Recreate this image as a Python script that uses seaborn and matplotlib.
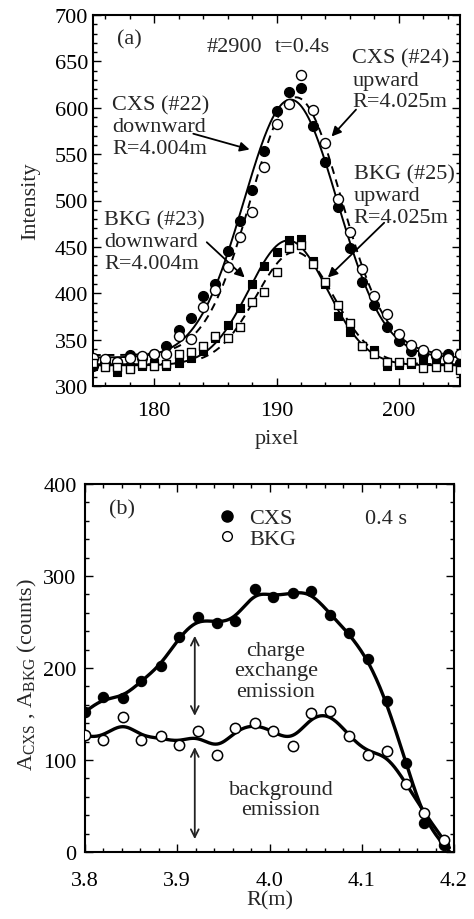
import numpy as np
import pandas as pd
import matplotlib
matplotlib.use("Agg")
import matplotlib.pyplot as plt
from matplotlib.ticker import MultipleLocator
from matplotlib.lines import Line2D
import seaborn as sns

# ---------------- data: panel (a) ----------------
pixel = list(range(175, 206))
cxs22 = [322, 325, 326, 333, 330, 335, 343, 360, 373, 397, 410, 446, 478, 511, 553, 597,
         617, 621, 580, 541, 493, 449, 412, 387, 364, 348, 338, 335, 332, 334, 325]
cxs24 = [330, 329, 326, 330, 332, 334, 335, 354, 351, 385, 403, 428, 461, 488, 536, 583,
         604, 635, 598, 562, 502, 466, 426, 397, 378, 356, 344, 339, 335, 330, 334]
bkg23 = [322, 322, 315, 320, 322, 325, 322, 325, 330, 338, 352, 366, 384, 410, 429, 445,
         457, 459, 435, 410, 376, 358, 343, 339, 322, 323, 324, 327, 325, 324, 322]
bkg25 = [325, 320, 320, 318, 324, 322, 324, 334, 337, 343, 354, 352, 364, 391, 401, 423,
         449, 452, 432, 412, 387, 368, 343, 334, 326, 326, 326, 319, 321, 320, 317]
a_xticks = [180, 190, 200]
a_yticks = [300, 350, 400, 450, 500, 550, 600, 650, 700]

# ---------------- data: panel (b) ----------------
R = [3.800, 3.820, 3.841, 3.861, 3.882, 3.902, 3.922, 3.943, 3.963, 3.984,
     4.004, 4.025, 4.045, 4.066, 4.086, 4.107, 4.127, 4.148, 4.168, 4.189]
A_cxs = [152, 168, 167, 186, 202, 234, 255, 249, 251, 286,
         277, 282, 284, 258, 238, 210, 164, 97, 32, 8]
A_bkg = [127, 122, 147, 122, 126, 116, 132, 105, 135, 140,
         132, 115, 151, 153, 126, 105, 110, 74, 42, 13]
b_xticks = [3.8, 3.9, 4.0, 4.1, 4.2]
b_yticks = [0, 100, 200, 300, 400]


def gauss_fit(x, y, grid):
    """Least-squares Gaussian + baseline fit of the read points."""
    x = np.asarray(x, float)
    y = np.asarray(y, float)
    c = np.arange(186.0, 196.0, 0.05)[:, None, None]
    s = np.arange(2.0, 6.0, 0.02)[None, :, None]
    g = np.exp(-0.5 * ((x[None, None, :] - c) / s) ** 2)
    gm = g.mean(-1, keepdims=True)
    ym = y.mean()
    slope = ((g - gm) * (y - ym)).sum(-1, keepdims=True) / ((g - gm) ** 2).sum(-1, keepdims=True)
    icpt = ym - slope * gm
    res = ((icpt + slope * g - y) ** 2).sum(-1)
    i, j = np.unravel_index(np.argmin(res), res.shape)
    cc, ss = c[i, 0, 0], s[0, j, 0]
    return icpt[i, j, 0] + slope[i, j, 0] * np.exp(-0.5 * ((grid - cc) / ss) ** 2)


def local_linear(x, y, grid, h):
    """Kernel-weighted local linear smoother through the read points."""
    x = np.asarray(x, float)
    y = np.asarray(y, float)
    out = []
    for x0 in grid:
        w = np.exp(-0.5 * ((x - x0) / h) ** 2)
        X = np.column_stack([np.ones_like(x), x - x0])
        Wm = np.diag(w)
        beta = np.linalg.solve(X.T @ Wm @ X, X.T @ Wm @ y)
        out.append(beta[0])
    return np.array(out)


sns.set_style("ticks")
plt.rcParams.update({
    "font.family": ["Liberation Serif", "DejaVu Serif"],
    "mathtext.fontset": "custom",
    "mathtext.rm": "Liberation Serif",
    "mathtext.it": "Liberation Serif:italic",
    "font.size": 16,
    "axes.linewidth": 1.5,
    "axes.edgecolor": "black",
    "xtick.color": "black",
    "ytick.color": "black",
})

W, H = 474, 920
fig = plt.figure(figsize=(W / 100, H / 100), dpi=100)
axa = fig.add_axes([93 / W, 1 - 387 / H, 367 / W, 371 / H])
axb = fig.add_axes([85 / W, 1 - 853 / H, 369 / W, 368 / H])

# ---------------- panel (a) ----------------
xg = np.linspace(175, 205, 500)
fits = pd.DataFrame({
    "pixel": xg,
    "cxs22": gauss_fit(pixel, cxs22, xg),
    "cxs24": gauss_fit(pixel, cxs24, xg),
    "bkg23": gauss_fit(pixel, bkg23, xg),
    "bkg25": gauss_fit(pixel, bkg25, xg),
})
pts = pd.DataFrame({"pixel": pixel, "cxs22": cxs22, "cxs24": cxs24,
                    "bkg23": bkg23, "bkg25": bkg25})

for col, ls in [("cxs22", "-"), ("bkg23", "-"), ("cxs24", (0, (4, 3))), ("bkg25", (0, (4, 3)))]:
    sns.lineplot(data=fits, x="pixel", y=col, ax=axa, color="black", lw=1.4,
                 linestyle=ls, estimator=None, sort=False, zorder=2)

sns.scatterplot(data=pts, x="pixel", y="cxs22", ax=axa, marker="o", s=52,
                color="black", edgecolor="black", linewidth=0.8, zorder=3)
sns.scatterplot(data=pts, x="pixel", y="cxs24", ax=axa, marker="o", s=52,
                color="white", edgecolor="black", linewidth=1.0, zorder=4)
sns.scatterplot(data=pts, x="pixel", y="bkg23", ax=axa, marker="s", s=40,
                color="black", edgecolor="black", linewidth=0.8, zorder=3)
sns.scatterplot(data=pts, x="pixel", y="bkg25", ax=axa, marker="s", s=40,
                color="white", edgecolor="black", linewidth=1.0, zorder=4)

axa.set_xlim(175, 205)
axa.set_ylim(300, 700)
axa.set_xticks(a_xticks)
axa.set_yticks(a_yticks)
axa.xaxis.set_minor_locator(MultipleLocator(2))
axa.yaxis.set_minor_locator(MultipleLocator(10))
axa.set_xlabel("pixel", fontsize=16)
axa.set_ylabel("Intensity", fontsize=16)
axa.xaxis.set_label_coords(0.50, -0.115)
axa.yaxis.set_label_coords(-0.145, 0.50)
axa.tick_params(axis="x", pad=11)
axa.tick_params(axis="y", pad=3.5)

arrow_kw = dict(arrowstyle="-|>", color="black", lw=1.3, mutation_scale=14, shrinkA=0, shrinkB=0)
tx = dict(fontsize=16, ha="left", va="center", linespacing=1.2)

axa.text(178.0, 674, "(a)", fontsize=16, ha="center", va="center")
axa.text(184.3, 666, "#2900", fontsize=16, ha="left", va="center")
axa.text(189.9, 666, "t=0.4s", fontsize=16, ha="left", va="center")
axa.text(176.55, 580, "CXS (#22)\ndownward\nR=4.004m", **tx)
axa.text(196.2, 630, "CXS (#24)\nupward\nR=4.025m", **tx)
axa.text(175.9, 456, "BKG (#23)\ndownward\nR=4.004m", **tx)
axa.text(196.3, 505, "BKG (#25)\nupward\nR=4.025m", **tx)
axa.annotate("", xy=(187.8, 555), xytext=(183.2, 572), arrowprops=arrow_kw)
axa.annotate("", xy=(194.5, 569), xytext=(196.5, 598), arrowprops=arrow_kw)
axa.annotate("", xy=(187.4, 417), xytext=(184.3, 455), arrowprops=arrow_kw)
axa.annotate("", xy=(194.2, 417), xytext=(198.8, 476), arrowprops=arrow_kw)

# ---------------- panel (b) ----------------
rg = np.linspace(3.8, 4.195, 400)
curves = pd.DataFrame({
    "R": rg,
    "cxs": local_linear(R, A_cxs, rg, 0.0135),
    "bkg": local_linear(R, A_bkg, rg, 0.0145),
})
ptsb = pd.DataFrame({"R": R, "cxs": A_cxs, "bkg": A_bkg})
sns.lineplot(data=curves, x="R", y="cxs", ax=axb, color="black", lw=2.4,
             estimator=None, sort=False, zorder=2)
sns.lineplot(data=curves, x="R", y="bkg", ax=axb, color="black", lw=2.4,
             estimator=None, sort=False, zorder=2)
sns.scatterplot(data=ptsb, x="R", y="cxs", ax=axb, marker="o", s=55,
                color="black", edgecolor="black", linewidth=0.8, zorder=3)
sns.scatterplot(data=ptsb, x="R", y="bkg", ax=axb, marker="o", s=55,
                color="white", edgecolor="black", linewidth=1.1, zorder=4)

axb.set_xlim(3.8, 4.2)
axb.set_ylim(0, 400)
axb.set_xticks(b_xticks)
axb.set_xticklabels([f"{v:.1f}" for v in b_xticks])
axb.set_yticks(b_yticks)
axb.xaxis.set_minor_locator(MultipleLocator(0.02))
axb.yaxis.set_minor_locator(MultipleLocator(20))
axb.set_xlabel("R(m)", fontsize=16)
axb.set_ylabel(r"$\mathregular{A_{CXS}}$ , $\mathregular{A_{BKG}}$ (counts)", fontsize=16)
axb.xaxis.set_label_coords(0.50, -0.105)
axb.yaxis.set_label_coords(-0.125, 0.485)
axb.tick_params(axis="x", pad=14)
axb.tick_params(axis="y", pad=6)

axb.text(3.840, 373, "(b)", fontsize=16, ha="center", va="center")
axb.text(4.126, 362, "0.4 s", fontsize=16, ha="center", va="center")
axb.text(4.007, 197, "charge\nexchange\nemission", fontsize=16, ha="center",
         va="center", linespacing=1.12)
axb.text(4.0125, 57, "background\nemission", fontsize=16, ha="center",
         va="center", linespacing=1.12)
dbl = dict(arrowstyle="<->", color="#222222", lw=1.3, mutation_scale=14, shrinkA=0, shrinkB=0)
axb.annotate("", xy=(3.919, 235), xytext=(3.919, 148), arrowprops=dbl)
axb.annotate("", xy=(3.919, 114), xytext=(3.919, 14), arrowprops=dbl)

handles = [Line2D([], [], ls="", marker="o", ms=8, mfc="black", mec="black"),
           Line2D([], [], ls="", marker="o", ms=7, mfc="white", mec="black", mew=1.0)]
axb.legend(handles, ["CXS", "BKG"], loc="upper left", bbox_to_anchor=(0.36, 0.935),
           frameon=False, fontsize=16, handlelength=0.8, handletextpad=0.6,
           labelspacing=0.0, borderpad=0, borderaxespad=0)

for ax in (axa, axb):
    ax.tick_params(which="both", direction="in", top=True, right=True, width=1.0,
                   labelsize=16)
    ax.tick_params(which="major", length=6)
    ax.tick_params(which="minor", length=3)
    for sp in ax.spines.values():
        sp.set_visible(True)
        sp.set_linewidth(1.5)

fig.savefig("out.png", dpi=100)
